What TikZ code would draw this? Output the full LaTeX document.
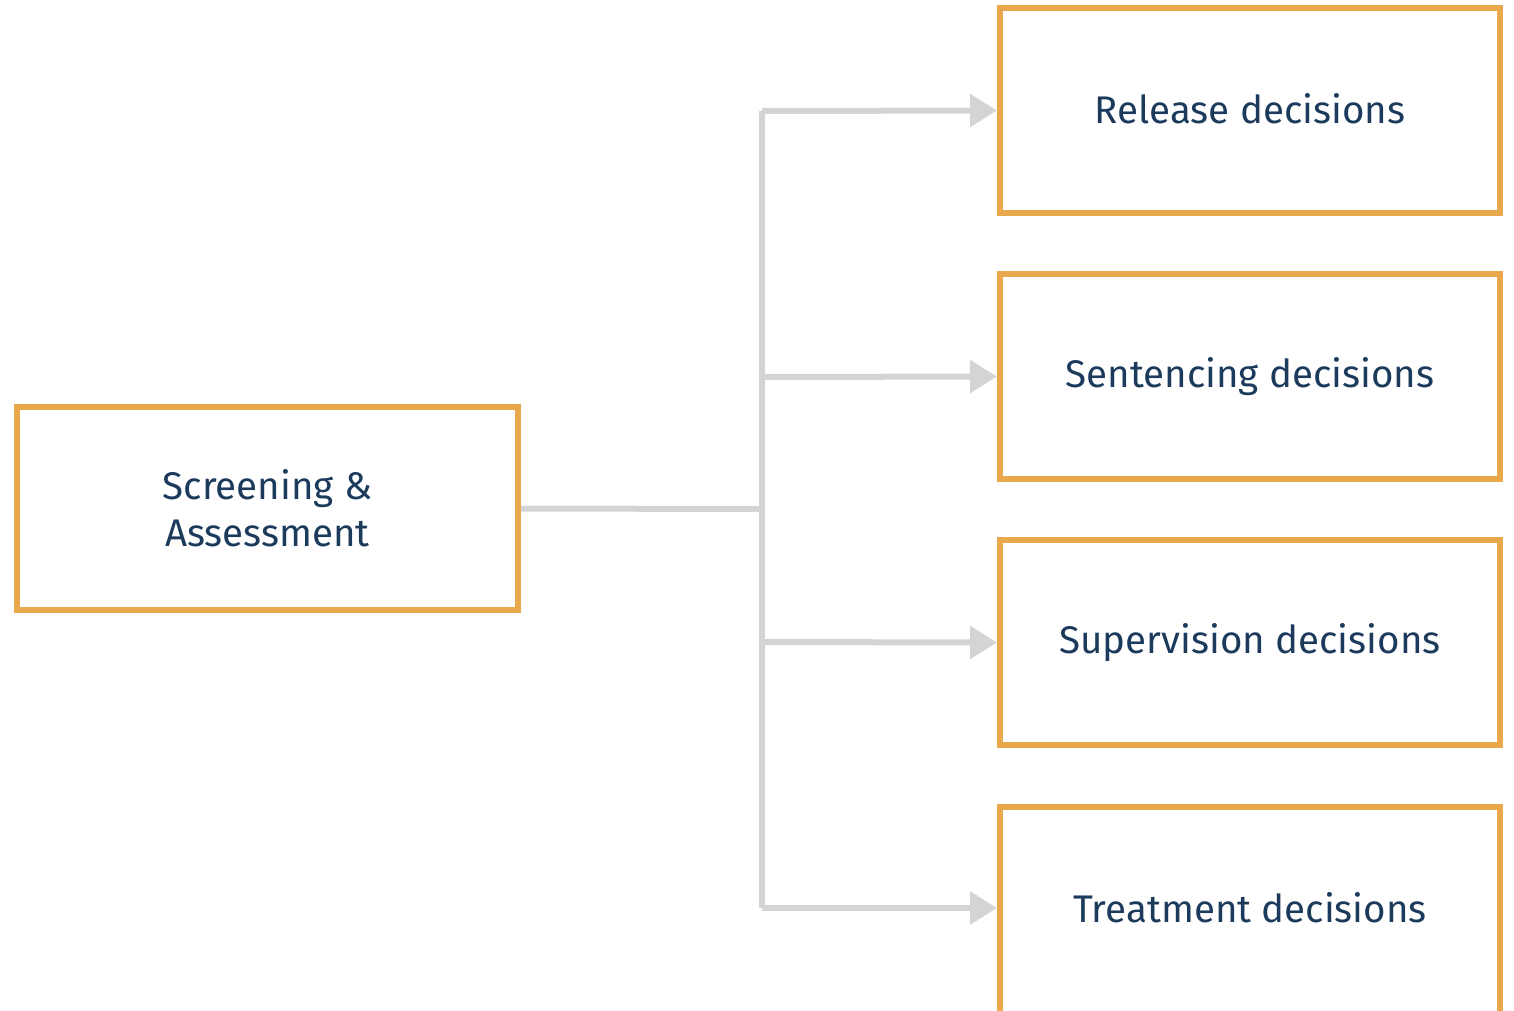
\documentclass[tikz,border=0pt]{standalone}
\usepackage{fontspec}
\setmainfont{Fira Sans}
\usetikzlibrary{arrows.meta}
\definecolor{boxorange}{HTML}{EAA84C}
\definecolor{linegray}{HTML}{D4D4D4}
\definecolor{textnavy}{HTML}{1C3B5C}
\tikzset{
  decbox/.style={draw=boxorange, line width=6pt, minimum width=500pt, minimum height=205pt, inner sep=0pt, text=textnavy, font=\fontsize{38.5}{47}\selectfont, align=center},
  conn/.style={draw=linegray, line width=6pt},
  arr/.style={conn, -{Triangle[length=27pt,width=32pt]}}
}
\begin{document}
\begin{tikzpicture}[x=1pt,y=-1pt]
\useasboundingbox (0,0) rectangle (1514,1010);
\clip (0,0) rectangle (1514,1010);
\node[decbox, minimum width=501pt, minimum height=203pt] (sa) at (267.5,508.5) {\raisebox{3pt}{\parbox{420pt}{\centering Screening \&\\Assessment}}};
\node[decbox] (rel) at (1250,110.5) {\raisebox{4pt}{Release decisions}};
\node[decbox] (sen) at (1250,376.5) {\raisebox{2pt}{Sentencing decisions}};
\node[decbox] (sup) at (1250,642.5) {\raisebox{1pt}{Supervision decisions}};
\node[decbox, minimum height=207pt] (tre) at (1250,910.5) {\raisebox{7pt}{Treatment decisions}};
\coordinate (j) at (762,509);
\coordinate (jt) at (762,111);
\coordinate (jb) at (762,908);
\draw[conn] (sa.east) -- (j);
\draw[conn] (jt) -- (jb);
\draw[arr] (jt) -- (rel.west);
\draw[arr] (762,377) -- (sen.west);
\draw[arr] (762,642) -- (sup.west);
\draw[arr] (jb) -- (tre.west |- jb);
\end{tikzpicture}
\end{document}
